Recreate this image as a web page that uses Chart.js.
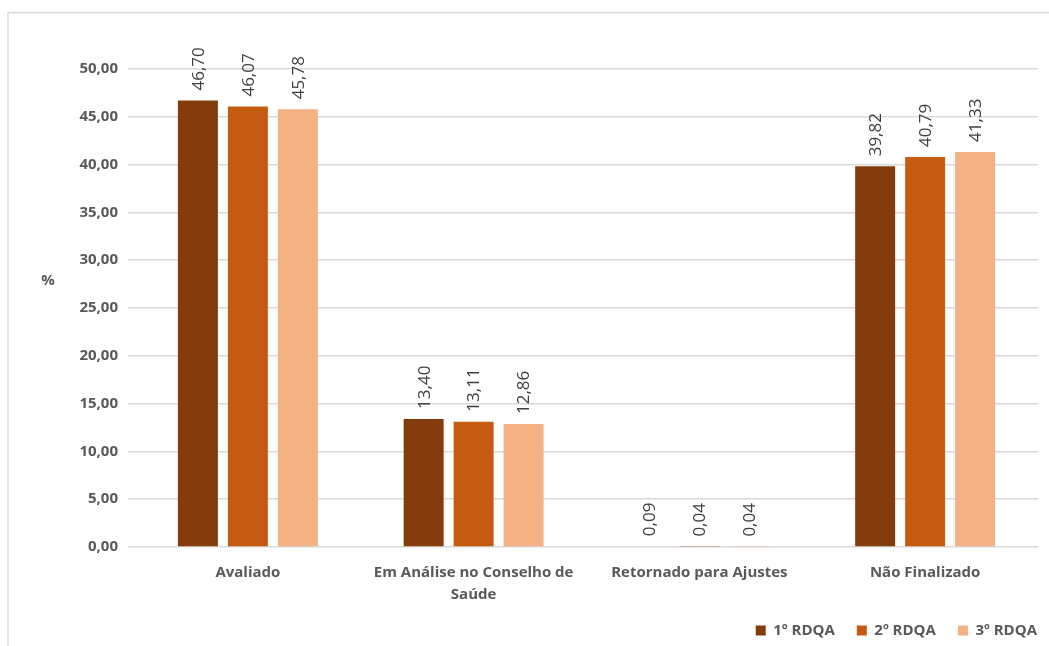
<!DOCTYPE html>
<html>
<head>
<meta charset="utf-8">
<script src="https://cdn.jsdelivr.net/npm/chart.js@4/dist/chart.umd.min.js"></script>
<style>
  html, body { margin: 0; padding: 0; background: #fff; }
  #wrap { width: 1049px; height: 646px; }
</style>
</head>
<body>
<div id="wrap"><canvas id="myChart" width="1049" height="646"></canvas></div>
<script>
const categories = [
    'Avaliado',
    ['Em Análise no Conselho de', 'Saúde'],
    'Retornado para Ajustes',
    'Não Finalizado'
];
const seriesNames = ['1º RDQA', '2º RDQA', '3º RDQA'];
const rdqa1 = [46.70, 13.40, 0.09, 39.82];
const rdqa2 = [46.07, 13.11, 0.04, 40.79];
const rdqa3 = [45.78, 12.86, 0.04, 41.33];
const seriesColors = ['#843C0C', '#C55A11', '#F4B183'];
const yTicks = [0, 5, 10, 15, 20, 25, 30, 35, 40, 45, 50];

const FONT = '"Open Sans", Lato, sans-serif';
const TEXT = '#595959';

function fmt(v) {
    return v.toFixed(2).replace('.', ',');
}

// frame around the chart + the "%" axis title
const framePlugin = {
    id: 'frame',
    beforeDraw(chart) {
        const c = chart.ctx;
        c.save();
        c.fillStyle = '#fff';
        c.fillRect(0, 0, chart.width, chart.height);
        c.strokeStyle = '#D9D9D9';
        c.lineWidth = 1.5;
        c.beginPath();
        c.moveTo(8, chart.height);
        c.lineTo(8, 12.5);
        c.lineTo(chart.width, 12.5);
        c.stroke();
        c.restore();
    },
    afterLayout(chart) {
        // push legend to the right edge like the original
        chart.legend.left += 21;
        chart.legend.right += 21;
    },
    afterDraw(chart) {
        const c = chart.ctx;
        c.save();
        c.fillStyle = TEXT;
        c.font = 'bold 15px ' + FONT;
        c.textAlign = 'center';
        c.textBaseline = 'middle';
        c.fillText('%', 48, 281);
        c.restore();
    }
};

// rotated value labels above each bar
const valueLabels = {
    id: 'valueLabels',
    afterDatasetsDraw(chart) {
        const c = chart.ctx;
        c.save();
        c.fillStyle = '#404040';
        c.font = '17px ' + FONT;
        c.textAlign = 'left';
        c.textBaseline = 'middle';
        chart.data.datasets.forEach((ds, i) => {
            chart.getDatasetMeta(i).data.forEach((bar, j) => {
                c.save();
                c.translate(bar.x + 1, bar.y - 10);
                c.rotate(-Math.PI / 2);
                c.fillText(fmt(ds.data[j]), 0, 0);
                c.restore();
            });
        });
        c.restore();
    }
};

const ctx = document.getElementById('myChart').getContext('2d');
new Chart(ctx, {
    type: 'bar',
    data: {
        labels: categories,
        datasets: seriesNames.map((name, i) => ({
            label: name,
            data: [rdqa1, rdqa2, rdqa3][i],
            backgroundColor: seriesColors[i],
            borderWidth: 0,
            categoryPercentage: 0.664,
            barPercentage: 0.8
        }))
    },
    options: {
        responsive: false,
        animation: false,
        layout: { padding: { left: 0, right: 11, top: 69, bottom: -2 } },
        plugins: {
            tooltip: { enabled: false },
            legend: {
                position: 'bottom',
                align: 'end',
                labels: {
                    boxWidth: 10,
                    boxHeight: 10,
                    padding: 22,
                    color: TEXT,
                    font: { family: FONT, size: 15, weight: 'bold' }
                }
            }
        },
        scales: {
            x: {
                grid: { display: false },
                border: { display: false },
                ticks: {
                    color: TEXT,
                    font: { family: FONT, size: 15, weight: 'bold', lineHeight: 1.45 },
                    padding: 7,
                    maxRotation: 0
                },
                afterFit(scale) { scale.height = 54; }
            },
            y: {
                min: 0,
                max: 50,
                afterBuildTicks(scale) { scale.ticks = yTicks.map(v => ({ value: v })); },
                grid: { color: '#D9D9D9', lineWidth: 1.5, tickLength: 7 },
                border: { display: false },
                ticks: {
                    color: TEXT,
                    font: { family: FONT, size: 15, weight: 'bold' },
                    padding: 10,
                    callback: v => fmt(v)
                },
                afterFit(scale) { scale.width = 135; }
            }
        }
    },
    plugins: [framePlugin, valueLabels]
});
</script>
</body>
</html>
